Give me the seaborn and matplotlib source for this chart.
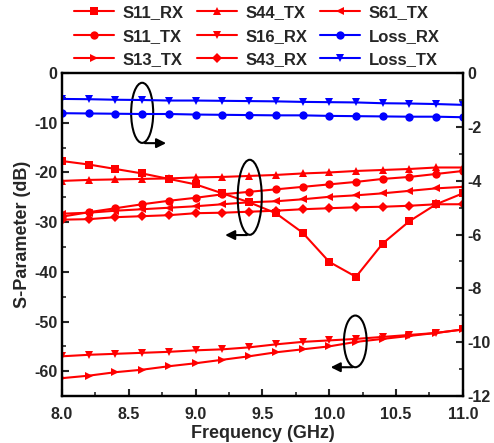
import numpy as np
import pandas as pd
import matplotlib
matplotlib.use("Agg")
import matplotlib.pyplot as plt
from matplotlib.patches import Ellipse
import seaborn as sns

# frequency points (GHz)
freq = [8.0, 8.2, 8.4, 8.6, 8.8, 9.0, 9.2, 9.4, 9.6, 9.8, 10.0, 10.2, 10.4, 10.6, 10.8, 11.0]

# left axis (dB)
s11_rx = [-17.7, -18.4, -19.3, -20.2, -21.3, -22.4, -24.2, -26.0, -28.2, -32.1, -38.0, -41.0, -34.3, -29.8, -26.4, -24.2]
s11_tx = [-28.9, -28.0, -27.2, -26.4, -25.7, -25.1, -24.4, -23.9, -23.4, -22.9, -22.4, -21.9, -21.3, -20.9, -20.3, -19.7]
s13_tx = [-61.4, -60.9, -60.2, -59.7, -59.0, -58.4, -57.7, -57.0, -56.2, -55.6, -55.0, -54.1, -53.5, -52.9, -52.3, -51.6]
s44_tx = [-21.7, -21.5, -21.4, -21.3, -21.2, -21.0, -20.9, -20.7, -20.5, -20.2, -20.0, -19.7, -19.5, -19.3, -19.0, -19.0]
s16_rx = [-57.0, -56.7, -56.5, -56.3, -56.1, -55.8, -55.6, -55.2, -54.6, -54.1, -53.8, -53.5, -53.1, -52.7, -52.3, -51.6]
s43_rx = [-29.5, -29.4, -29.0, -28.8, -28.6, -28.2, -28.1, -27.9, -27.7, -27.4, -27.2, -27.0, -26.9, -26.7, -26.4, -26.4]
s61_tx = [-28.3, -28.1, -27.7, -27.4, -27.1, -26.8, -26.4, -26.0, -25.8, -25.4, -24.9, -24.6, -24.2, -23.7, -23.2, -22.9]

# right axis (dB)
loss_rx = [-1.49, -1.50, -1.51, -1.52, -1.52, -1.54, -1.55, -1.56, -1.57, -1.57, -1.59, -1.60, -1.61, -1.62, -1.62, -1.64]
loss_tx = [-0.96, -0.97, -0.99, -1.00, -1.02, -1.02, -1.03, -1.04, -1.05, -1.07, -1.08, -1.09, -1.12, -1.13, -1.15, -1.18]

left_series = [
    ("S11_RX", s11_rx, "s", 6),
    ("S11_TX", s11_tx, "o", 6),
    ("S13_TX", s13_tx, ">", 6),
    ("S44_TX", s44_tx, "^", 6),
    ("S16_RX", s16_rx, "v", 6),
    ("S43_RX", s43_rx, "D", 5),
    ("S61_TX", s61_tx, "<", 6),
]
right_series = [
    ("Loss_RX", loss_rx, "o", 6),
    ("Loss_TX", loss_tx, "v", 6),
]

sns.set_theme(style="ticks")
plt.rcParams["font.family"] = ["Liberation Sans", "DejaVu Sans"]
plt.rcParams["font.weight"] = "bold"
plt.rcParams["axes.unicode_minus"] = False

fig = plt.figure(figsize=(4.94, 4.43), dpi=100)
ax = fig.add_axes([0.1255, 0.106, 0.8115, 0.729])
ax2 = ax.twinx()

handles = {}
for name, vals, mk, ms in left_series:
    sns.lineplot(x=freq, y=vals, ax=ax, color="#ff0000", marker=mk, markersize=ms,
                 markeredgewidth=0, linewidth=1.5, label=name, legend=False)
    handles[name] = ax.lines[-1]
for name, vals, mk, ms in right_series:
    sns.lineplot(x=freq, y=vals, ax=ax2, color="#0000ff", marker=mk, markersize=ms,
                 markeredgewidth=0, linewidth=1.5, label=name, legend=False)
    handles[name] = ax2.lines[-1]

ax.set_xlim(8.0, 11.0)
ax.set_ylim(-65, 0)
ax2.set_ylim(-12, 0)
ax.set_xticks(np.arange(8.0, 11.01, 0.5))
ax.set_xticks(np.arange(8.25, 11.0, 0.5), minor=True)
ax.set_xticklabels([f"{v:.1f}" for v in np.arange(8.0, 11.01, 0.5)])
ax.set_yticks(np.arange(-60, 1, 10))
ax.set_yticks(np.arange(-65, 0, 10), minor=True)
ax2.set_yticks(np.arange(-12, 1, 2))
ax2.set_yticks(np.arange(-11, 0, 2), minor=True)

for a in (ax, ax2):
    for s in a.spines.values():
        s.set_linewidth(1.6)
        s.set_color("black")
    a.tick_params(which="major", direction="in", length=5, width=1.5, labelsize=11.5)
    a.tick_params(which="minor", direction="in", length=3, width=1.2)
ax.tick_params(axis="x", which="both", top=False)
ax.tick_params(axis="x", which="major", pad=8)
for lab in ax.get_xticklabels() + ax.get_yticklabels() + ax2.get_yticklabels():
    lab.set_fontweight("bold")

ax.set_xlabel("Frequency (GHz)", fontsize=13, fontweight="bold", labelpad=2)
ax.set_ylabel("S-Parameter (dB)", fontsize=13, fontweight="bold", labelpad=2)

# ellipses with arrows showing which axis the curves belong to
ell_kw = dict(fill=False, edgecolor="black", linewidth=1.5, zorder=5)
arr_kw = dict(arrowstyle="-|>", color="black", lw=1.5, mutation_scale=14)
ax.add_patch(Ellipse((8.6, -8.0), 0.165, 12.1, **ell_kw))
ax.annotate("", xy=(8.8, -14.1), xytext=(8.6, -14.1), arrowprops=arr_kw)
ax.add_patch(Ellipse((9.405, -25.0), 0.18, 15.1, **ell_kw))
ax.annotate("", xy=(9.2, -32.6), xytext=(9.405, -32.6), arrowprops=arr_kw)
ax.add_patch(Ellipse((10.195, -54.0), 0.17, 10.4, **ell_kw))
ax.annotate("", xy=(9.99, -59.2), xytext=(10.195, -59.2), arrowprops=arr_kw)

order = ["S11_RX", "S11_TX", "S13_TX", "S44_TX", "S16_RX", "S43_RX", "S61_TX", "Loss_RX", "Loss_TX"]
fig.legend([handles[n] for n in order], order, ncol=3, loc="upper center",
           bbox_to_anchor=(0.52, 1.022), frameon=False, handlelength=2.4,
           columnspacing=0.8, labelspacing=0.5, handletextpad=0.5,
           prop={"weight": "bold", "size": 12})

fig.savefig("out.png", dpi=100)
